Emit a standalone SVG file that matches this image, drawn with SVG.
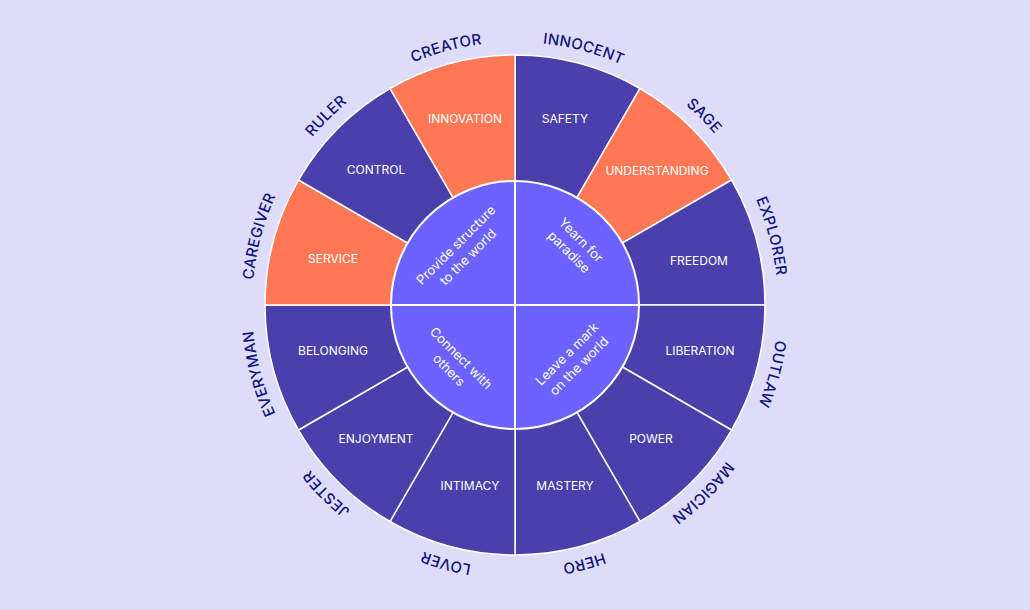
<svg xmlns="http://www.w3.org/2000/svg" width="1030" height="610" viewBox="0 0 1030 610">
<style>
.dk{fill:#4B3FAB;stroke:#ffffff;stroke-width:1.5;stroke-linejoin:round}
.or{fill:#FF7856;stroke:#ffffff;stroke-width:1.5;stroke-linejoin:round}
.seg{font-family:Inter,"Noto Sans","Liberation Sans",sans-serif;font-size:12px;fill:#ffffff;text-anchor:middle}
.arch{font-family:Inter,"Noto Sans","Liberation Sans",sans-serif;font-size:15px;font-weight:500;fill:#10137E;letter-spacing:0.3px;text-anchor:middle}
.inn{font-family:Inter,"Noto Sans","Liberation Sans",sans-serif;font-size:13px;fill:#ffffff;text-anchor:middle}
</style>
<defs>
<path id="a0" d="M515,42 A263,263 0 0 1 646.5,77.24"/>
<path id="a1" d="M646.5,77.24 A263,263 0 0 1 742.76,173.5"/>
<path id="a2" d="M742.76,173.5 A263,263 0 0 1 778,305"/>
<path id="a3" d="M778,305 A263,263 0 0 1 742.76,436.5"/>
<path id="a4" d="M742.76,436.5 A263,263 0 0 1 646.5,532.76"/>
<path id="a5" d="M646.5,532.76 A263,263 0 0 1 515,568"/>
<path id="a6" d="M515,568 A263,263 0 0 1 383.5,532.76"/>
<path id="a7" d="M383.5,532.76 A263,263 0 0 1 287.24,436.5"/>
<path id="a8" d="M287.24,436.5 A263,263 0 0 1 252,305"/>
<path id="a9" d="M252,305 A263,263 0 0 1 287.24,173.5"/>
<path id="a10" d="M287.24,173.5 A263,263 0 0 1 383.5,77.24"/>
<path id="a11" d="M383.5,77.24 A263,263 0 0 1 515,42"/>
</defs>
<rect width="1030" height="610" fill="#DFDCF9"/>

<g id="innocent"><path class="dk" d="M515,305 L515,55 A250,250 0 0 1 640,88.49 Z"/><text class="seg" x="565" y="123">SAFETY</text><text class="arch"><textPath href="#a0" startOffset="50%">INNOCENT</textPath></text></g>
<g id="sage"><path class="or" d="M515,305 L640,88.49 A250,250 0 0 1 731.51,180 Z"/><text class="seg" x="657" y="175">UNDERSTANDING</text><text class="arch"><textPath href="#a1" startOffset="50%">SAGE</textPath></text></g>
<g id="explorer"><path class="dk" d="M515,305 L731.51,180 A250,250 0 0 1 765,305 Z"/><text class="seg" x="699" y="265">FREEDOM</text><text class="arch"><textPath href="#a2" startOffset="50%">EXPLORER</textPath></text></g>
<g id="outlaw"><path class="dk" d="M515,305 L765,305 A250,250 0 0 1 731.51,430 Z"/><text class="seg" x="700" y="355">LIBERATION</text><text class="arch"><textPath href="#a3" startOffset="50%">OUTLAW</textPath></text></g>
<g id="magician"><path class="dk" d="M515,305 L731.51,430 A250,250 0 0 1 640,521.51 Z"/><text class="seg" x="651" y="443">POWER</text><text class="arch"><textPath href="#a4" startOffset="50%">MAGICIAN</textPath></text></g>
<g id="hero"><path class="dk" d="M515,305 L640,521.51 A250,250 0 0 1 515,555 Z"/><text class="seg" x="565" y="490">MASTERY</text><text class="arch"><textPath href="#a5" startOffset="50%">HERO</textPath></text></g>
<g id="lover"><path class="dk" d="M515,305 L515,555 A250,250 0 0 1 390,521.51 Z"/><text class="seg" x="470" y="490">INTIMACY</text><text class="arch"><textPath href="#a6" startOffset="50%">LOVER</textPath></text></g>
<g id="jester"><path class="dk" d="M515,305 L390,521.51 A250,250 0 0 1 298.49,430 Z"/><text class="seg" x="376" y="443">ENJOYMENT</text><text class="arch"><textPath href="#a7" startOffset="50%">JESTER</textPath></text></g>
<g id="everyman"><path class="dk" d="M515,305 L298.49,430 A250,250 0 0 1 265,305 Z"/><text class="seg" x="333" y="355">BELONGING</text><text class="arch"><textPath href="#a8" startOffset="50%">EVERYMAN</textPath></text></g>
<g id="caregiver"><path class="or" d="M515,305 L265,305 A250,250 0 0 1 298.49,180 Z"/><text class="seg" x="333" y="263">SERVICE</text><text class="arch"><textPath href="#a9" startOffset="50%">CAREGIVER</textPath></text></g>
<g id="ruler"><path class="dk" d="M515,305 L298.49,180 A250,250 0 0 1 390,88.49 Z"/><text class="seg" x="376" y="174">CONTROL</text><text class="arch"><textPath href="#a10" startOffset="50%">RULER</textPath></text></g>
<g id="creator"><path class="or" d="M515,305 L390,88.49 A250,250 0 0 1 515,55 Z"/><text class="seg" x="465" y="123">INNOVATION</text><text class="arch"><textPath href="#a11" startOffset="50%">CREATOR</textPath></text></g>

<g id="core">
<circle cx="515" cy="305" r="124" fill="#6C63FF" stroke="#ffffff" stroke-width="2"/>
<line x1="515" y1="181" x2="515" y2="429" stroke="#ffffff" stroke-width="2"/>
<line x1="391" y1="305" x2="639" y2="305" stroke="#ffffff" stroke-width="2"/>
</g>
<g id="q-structure" transform="rotate(-45 462 251)"><text class="inn" x="462" y="247">Provide structure<tspan x="462" dy="17">to the world</tspan></text></g>
<g id="q-paradise" transform="rotate(45 575 246)"><text class="inn" x="575" y="242">Yearn for<tspan x="575" dy="17">paradise</tspan></text></g>
<g id="q-connect" transform="rotate(45 455 364)"><text class="inn" x="455" y="360">Connect with<tspan x="455" dy="17">others</tspan></text></g>
<g id="q-mark" transform="rotate(-45 573 360)"><text class="inn" x="573" y="356">Leave a mark<tspan x="573" dy="17">on the world</tspan></text></g>
</svg>
